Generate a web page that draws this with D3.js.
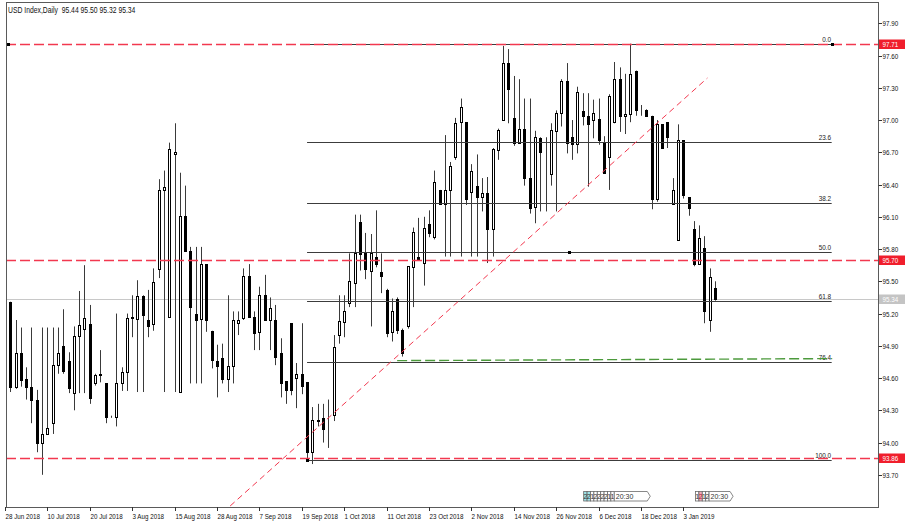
<!DOCTYPE html>
<html><head><meta charset="utf-8">
<script src="https://cdn.jsdelivr.net/npm/d3@7"></script>
<style>
body{margin:0;background:#fff;}
svg{display:block;font-family:"Liberation Sans",Arial,sans-serif;}
</style></head><body><svg id="c" width="906" height="530"></svg>
<script>
// ---------- DATA ----------
const opens  = [95.00,95.31,94.52,94.83,94.59,94.52,94.40,94.00,94.08,94.18,94.72,94.90,94.76,94.46,94.99,95.06,95.10,94.55,94.63,94.55,
94.24,94.24,94.55,94.66,95.16,95.15,95.36,95.14,95.10,95.61,96.35,95.17,96.68,94.47,96.11,95.78,95.20,95.15,95.66,95.04,
94.76,94.79,94.59,94.71,95.11,95.16,95.55,95.17,95.03,95.37,95.14,95.14,94.83,94.57,95.11,94.60,94.64,94.56,93.91,94.20,
94.23,94.18,94.26,95.00,95.12,95.30,95.48,96.05,95.76,95.60,95.73,95.59,95.42,95.03,95.34,95.05,95.08,95.63,95.73,95.67,
96.03,95.91,96.35,96.22,96.35,96.66,96.98,96.98,96.33,96.39,96.28,96.32,95.99,96.72,97.00,97.53,97.02,96.79,96.92,96.46,
96.19,96.83,96.70,96.50,96.90,97.07,97.36,96.84,96.78,97.08,97.04,97.00,97.01,96.80,96.66,96.98,97.38,97.04,97.06,97.46,
97.09,97.09,97.04,96.27,96.96,96.98,96.22,95.88,96.81,96.28,95.99,95.66,95.81,95.14,95.44];
const highs  = [95.53,95.31,95.14,95.07,94.70,95.07,94.49,95.07,95.07,95.07,95.07,95.24,94.84,95.08,95.41,95.65,95.28,94.64,94.86,94.55,
94.25,95.20,94.70,95.20,95.37,95.51,95.37,95.42,95.62,96.45,96.53,96.79,96.97,96.51,96.39,95.82,95.82,95.82,95.66,95.04,
94.91,94.92,95.37,95.22,95.22,95.62,95.66,95.22,95.45,95.56,95.35,95.28,94.97,94.57,95.11,94.74,95.11,94.56,94.33,94.36,
94.36,94.40,95.00,95.37,95.37,95.76,96.12,96.12,95.95,95.94,96.16,95.76,95.43,95.34,95.35,95.06,95.64,96.00,96.09,96.10,
96.16,96.53,96.35,96.86,96.61,97.02,97.20,96.98,96.59,96.68,96.46,96.47,96.74,96.92,97.69,97.66,97.41,97.38,97.20,97.20,
96.90,96.84,96.84,96.97,97.09,97.38,97.53,97.00,97.31,97.25,97.25,97.19,97.20,96.85,97.24,97.54,97.49,97.43,97.71,97.46,
97.14,97.10,97.04,97.00,96.96,96.98,96.46,96.96,96.81,96.28,96.06,96.02,95.92,95.62,95.50];
const lows   = [94.92,94.47,94.50,94.52,94.40,94.18,93.91,93.70,94.08,94.08,94.64,94.64,94.46,94.30,94.46,94.46,94.36,94.53,94.56,94.18,
94.23,94.15,94.48,94.48,94.98,94.47,94.47,94.98,95.04,95.53,94.47,95.17,94.47,94.47,95.78,94.55,94.55,94.55,95.03,94.69,
94.42,94.55,94.47,94.55,95.00,95.14,95.17,94.86,94.86,95.14,94.86,94.72,94.42,94.36,94.44,94.32,94.45,93.83,93.80,94.15,
94.00,93.95,94.20,94.92,94.98,95.26,95.26,95.60,95.52,95.08,95.63,95.39,94.98,94.94,95.01,94.80,95.06,95.26,95.70,95.46,
95.91,95.89,96.22,95.73,95.73,96.63,95.73,96.21,95.73,95.73,96.15,95.67,95.73,96.63,97.00,96.97,96.76,96.78,96.39,96.13,
96.04,96.15,96.15,96.39,96.15,96.94,96.69,96.63,96.69,96.95,96.38,96.83,96.77,96.51,96.35,96.97,96.89,96.87,96.98,97.04,
97.04,97.03,96.17,96.24,96.74,96.74,96.22,95.88,96.27,96.11,95.64,95.66,95.11,95.03,95.32];
const closes = [95.29,94.52,94.83,94.58,94.52,94.40,94.00,94.08,94.14,94.72,94.83,94.67,94.51,94.99,95.09,95.16,94.41,94.63,94.64,94.24,
94.24,94.55,94.66,95.16,95.17,95.36,95.19,95.08,95.49,96.35,96.38,96.73,96.70,96.11,95.78,95.26,95.14,95.66,95.14,94.77,
94.71,94.59,94.71,95.14,95.14,95.55,95.17,95.02,95.37,95.14,95.25,94.80,94.55,94.49,94.49,94.64,94.53,93.91,94.21,94.21,
94.13,94.18,94.89,95.13,95.22,95.50,95.76,95.75,95.61,95.76,95.66,95.55,95.02,95.22,95.05,94.83,95.64,95.96,95.71,96.00,
95.95,96.42,96.22,96.35,96.57,96.97,97.12,96.27,96.53,96.28,96.32,95.99,96.73,96.91,97.53,97.29,96.79,96.92,96.46,96.18,
96.84,96.70,96.70,96.91,97.07,97.36,96.79,96.78,97.26,97.04,96.96,97.07,96.81,96.51,97.22,97.38,97.04,97.06,97.43,97.09,
97.09,97.04,96.27,96.96,96.74,96.84,96.35,96.81,96.30,96.18,95.66,95.90,95.22,95.54,95.34];

const dateLabels = ["28 Jun 2018","10 Jul 2018","20 Jul 2018","3 Aug 2018","15 Aug 2018","28 Aug 2018","7 Sep 2018",
  "19 Sep 2018","1 Oct 2018","11 Oct 2018","23 Oct 2018","2 Nov 2018","14 Nov 2018","26 Nov 2018","6 Dec 2018","18 Dec 2018","3 Jan 2019"];
const dateTickBars = [0,8,16,24,32,40,48,56,64,72,80,88,96,104,112,120,128];
const priceTicks = [97.90,97.60,97.30,97.00,96.70,96.40,96.10,95.80,95.50,95.20,94.90,94.60,94.30,94.00,93.70];
const title = "USD Index,Daily  95.44 95.50 95.32 95.34";
const lastPrice = 95.34;

// Fibonacci retracement object
const fibLevels = [0.0, 23.6, 38.2, 50.0, 61.8, 76.4, 100.0];
const fibHigh = 97.71, fibLow = 93.834;
const fibStartBar = 57, fibEndBar = 156;

// horizontal lines
const hLines = [97.71, 95.70, 93.86];
// red trend line (bar, price)
const trendBars = [42.49, 132.55];
const trendPrices = [93.41, 97.391];
// green line
const greenBars = [74.0, 156.1];
const greenPrices = [94.762, 94.781];

// calendar event markers
const eventStartBars = [109.2, 130.3];
const eventCounts = [["2","2","1","2","2","2","2","1","1"], ["1","2","1","2"]];
const eventTimes = ["20:30","20:30"];
const eventHighlights = [[1,1,0,0,0,0,0,0,0],[0,2,0,0]];

// ---------- CHART ----------
const svg = d3.select("#c");
const W = 906, H = 530;
const plot = {l:6, r:878, t:2, b:507};
const nBars = closes.length;
const x = d3.scaleLinear().domain([0, nBars-1]).range([5, 5 + (nBars-1)*5.2992]);
const y = d3.scaleLinear().domain([93.70, 97.90]).range([474.8, 23.3]);

// condensed text helper (narrow chart font look)
function condense(sel, f){
  sel.each(function(){
    const w = this.getComputedTextLength();
    d3.select(this).attr("textLength", w*f).attr("lengthAdjust","spacingAndGlyphs");
  });
}

svg.append("rect").attr("width",W).attr("height",H).attr("fill","#fff");

const defs = svg.append("defs");
defs.append("clipPath").attr("id","pc").append("rect")
  .attr("x",plot.l+0.5).attr("y",plot.t+0.5).attr("width",plot.r-plot.l-0.5).attr("height",plot.b-plot.t-0.5);

const g = svg.append("g").attr("clip-path","url(#pc)");

// last price grey line
g.append("line").attr("x1",plot.l).attr("x2",plot.r)
  .attr("y1",Math.round(y(lastPrice))+0.5).attr("y2",Math.round(y(lastPrice))+0.5)
  .attr("stroke","#c8c8c8").attr("stroke-width",1);

// candles
const idx = d3.range(nBars);
const cx = i => Math.round(x(i));
g.append("g").selectAll("line").data(idx).join("line")
  .attr("x1",i=>cx(i)+0.5).attr("x2",i=>cx(i)+0.5)
  .attr("y1",i=>y(highs[i])).attr("y2",i=>y(lows[i]))
  .attr("stroke","#3a3a3a").attr("stroke-width",1);

g.append("g").selectAll("rect").data(idx).join("rect")
  .attr("x",i=>cx(i)-0.5)
  .attr("y",i=>Math.round(y(Math.max(opens[i],closes[i])))+0.5)
  .attr("width",2)
  .attr("height",i=>Math.max(0, Math.round(y(Math.min(opens[i],closes[i]))) - Math.round(y(Math.max(opens[i],closes[i])))))
  .attr("fill",i=>closes[i] < opens[i] ? "#000" : "#fff")
  .attr("stroke","#000").attr("stroke-width",1);

// fib lines
const fibPrice = lv => fibHigh - lv/100*(fibHigh - fibLow);
const fg = g.append("g");
fg.selectAll("line").data(fibLevels).join("line")
  .attr("x1",x(fibStartBar)).attr("x2",x(fibEndBar))
  .attr("y1",d=>Math.round(y(fibPrice(d)))+0.5).attr("y2",d=>Math.round(y(fibPrice(d)))+0.5)
  .attr("stroke","#3c3c3c").attr("stroke-width",1);
fg.selectAll("text").data(fibLevels).join("text")
  .attr("x",x(fibEndBar)-0.5).attr("y",d=>Math.round(y(fibPrice(d)))-2.5)
  .attr("text-anchor","end").attr("font-size",8).attr("fill","#222")
  .text(d=>d.toFixed(1)).call(condense,0.8);

// horizontal red dashed lines
g.append("g").selectAll("line").data(hLines).join("line")
  .attr("x1",plot.l).attr("x2",plot.r)
  .attr("y1",d=>Math.round(y(d))+0.5).attr("y2",d=>Math.round(y(d))+0.5)
  .attr("stroke","#f2384f").attr("stroke-width",1.6).attr("stroke-dasharray","10,4");

// green dashed line
g.append("line")
  .attr("x1",x(greenBars[0])).attr("x2",x(greenBars[1]))
  .attr("y1",y(greenPrices[0])).attr("y2",y(greenPrices[1]))
  .attr("stroke","#4c9a3c").attr("stroke-width",1.4).attr("stroke-dasharray","10,4");

// red trend line
g.append("line")
  .attr("x1",x(trendBars[0])).attr("x2",x(trendBars[1]))
  .attr("y1",y(trendPrices[0])).attr("y2",y(trendPrices[1]))
  .attr("stroke","#f2384f").attr("stroke-width",1).attr("stroke-dasharray","6,4");

// anchor squares
const anchors = [[plot.l+1.5, y(hLines[0])],[x(fibEndBar), y(fibHigh)],[x(fibStartBar), y(fibLow)],
  [x((fibStartBar+fibEndBar)/2), y(fibPrice(50))]];
svg.append("g").selectAll("rect").data(anchors).join("rect")
  .attr("x",d=>Math.round(d[0])-1).attr("y",d=>Math.round(d[1])-1).attr("width",3).attr("height",3)
  .attr("fill","#000");

// frame
svg.append("rect").attr("x",plot.l+0.5).attr("y",plot.t+0.5)
  .attr("width",plot.r-plot.l).attr("height",plot.b-plot.t)
  .attr("fill","none").attr("stroke","#5a5a5a").attr("stroke-width",1);

// right price axis
const ra = svg.append("g");
ra.selectAll("line").data(priceTicks).join("line")
  .attr("x1",plot.r+0.5).attr("x2",plot.r+4)
  .attr("y1",d=>Math.round(y(d))+0.5).attr("y2",d=>Math.round(y(d))+0.5)
  .attr("stroke","#333");
ra.selectAll("text").data(priceTicks).join("text")
  .attr("x",plot.r+4.5).attr("y",d=>y(d)+3)
  .attr("font-size",8).attr("fill","#111").text(d=>d.toFixed(2)).call(condense,0.78);

// price labels boxes
const boxes = hLines.map(p=>({p, bg:"#f01e2c"})).concat([{p:lastPrice, bg:"#c4c4c4"}]);
const bx = svg.append("g").selectAll("g").data(boxes).join("g");
bx.append("rect").attr("x",plot.r+1).attr("y",d=>Math.round(y(d.p))-4.5)
  .attr("width",26).attr("height",9.5).attr("fill",d=>d.bg);
bx.append("text").attr("x",plot.r+4.5).attr("y",d=>y(d.p)+3)
  .attr("font-size",8).attr("fill","#fff").text(d=>d.p.toFixed(2)).call(condense,0.78);

// bottom date axis
const ba = svg.append("g");
ba.selectAll("line").data(dateTickBars).join("line")
  .attr("x1",i=>cx(i)+0.5).attr("x2",i=>cx(i)+0.5)
  .attr("y1",plot.b).attr("y2",plot.b+4).attr("stroke","#333");
ba.selectAll("text").data(dateTickBars).join("text")
  .attr("x",i=>cx(i)+0.5).attr("y",518.5)
  .attr("font-size",8).attr("fill","#111").text((d,k)=>dateLabels[k]).call(condense,0.78);

// calendar event markers
const eg = svg.append("g");
const timeWidths = [33, 21];
eventStartBars.forEach((b,gi)=>{
  let x0 = x(b);
  const bw = 3.4, yt = 491.5, bh = 9.5;
  eventCounts[gi].forEach((c,k)=>{
    const hl = eventHighlights[gi][k];
    eg.append("rect").attr("x",x0+k*bw).attr("y",yt).attr("width",bw).attr("height",bh)
      .attr("fill", hl===1 ? "#9fe3e8" : hl===2 ? "#f4a9b8" : "#fff")
      .attr("stroke","#6a6a6a").attr("stroke-width",0.8);
    eg.append("text").attr("x",x0+k*bw+bw/2).attr("y",yt+7.5).attr("text-anchor","middle")
      .attr("font-size",7).attr("fill",hl===2?"#c0142c":"#333").text(c);
  });
  const xs = x0 + eventCounts[gi].length*bw;
  const xe = xs + timeWidths[gi];
  eg.append("path").attr("d",`M${xs},${yt}L${xe},${yt}L${xe+3},${yt+bh/2}L${xe},${yt+bh}L${xs},${yt+bh}Z`)
    .attr("fill","#fff").attr("stroke","#6a6a6a").attr("stroke-width",0.8);
  eg.append("text").attr("x",xs+1.5).attr("y",yt+7.5).attr("font-size",7).attr("fill","#333").text(eventTimes[gi]);
});

// title
svg.append("text").attr("x",8).attr("y",12.5).attr("font-size",8.5).attr("fill","#111")
  .style("white-space","pre").text(title).call(condense,0.8);
</script></body></html>
